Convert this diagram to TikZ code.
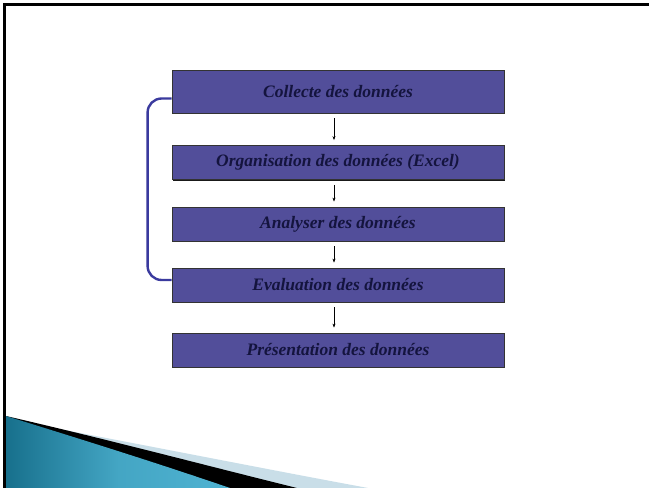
\documentclass[tikz,border=0pt]{standalone}
\usepackage{fontspec}
\setmainfont{Liberation Serif}
\usetikzlibrary{arrows.meta,patterns,shadows}
\definecolor{boxfill}{HTML}{524E9A}
\definecolor{boxtext}{HTML}{14143E}
\definecolor{brk}{HTML}{3A3A9E}
\definecolor{tealdark}{HTML}{17708C}
\definecolor{teallight}{HTML}{4FB3D2}
\definecolor{hatch}{HTML}{C9DEE8}
\tikzset{
  stepbox/.style={draw=black!80, line width=0.8pt, fill=boxfill, minimum width=332pt, minimum height=34pt,
    inner sep=0pt, font=\fontsize{17.5}{20}\selectfont\bfseries\itshape, text=boxtext,
    drop shadow={shadow xshift=1.2pt, shadow yshift=-1.2pt, fill=black, opacity=0.9}},
  flow/.style={-{Stealth[length=4pt,width=3pt]}, line width=0.6pt, black},
  brace/.style={draw=brk, line width=2.4pt, rounded corners=14pt}
}
\begin{document}
\begin{tikzpicture}[x=1pt,y=-1pt]
\useasboundingbox (0,0) rectangle (649,488);
\fill[white] (0,0) rectangle (649,488);
% bottom-left decoration
\fill[hatch] (6,419) .. controls (150,446) and (260,468) .. (368,488) -- (6,488) -- cycle;
\fill[black] (6,416) .. controls (110,440) and (200,464) .. (297,488) -- (6,488) -- cycle;
\shade[left color=tealdark, right color=teallight, middle color=teallight!80!tealdark]
  (6,416) .. controls (90,442) and (160,464) .. (230,488) -- (6,488) -- cycle;
% frame
\draw[black, line width=2.6pt] (4.5,488) -- (4.5,4.5) -- (649,4.5);
% boxes
\node[stepbox, minimum height=43pt] (b1) at (338,91.5) {Collecte des données};
\node[stepbox] (b2) at (338,162.5) {Organisation des données (Excel)};
\node[stepbox] (b3) at (338,224) {Analyser des données};
\node[stepbox] (b4) at (338,285) {Evaluation des données};
\node[stepbox] (b5) at (338,350) {Présentation des données};
% arrows
\foreach \a/\b in {b1/b2,b2/b3,b3/b4,b4/b5}
  \draw[flow, shorten <=5pt, shorten >=5pt] ([xshift=-4pt]\a.south) -- ([xshift=-4pt]\b.north);
% feedback bracket
\coordinate (t1) at ([yshift=-7pt]b1.west);
\coordinate (t4) at ([yshift=5pt]b4.west);
\draw[brace] (t1) -- ([xshift=-24pt]t1) -- ([xshift=-24pt]t4) -- (t4);
\end{tikzpicture}
\end{document}
